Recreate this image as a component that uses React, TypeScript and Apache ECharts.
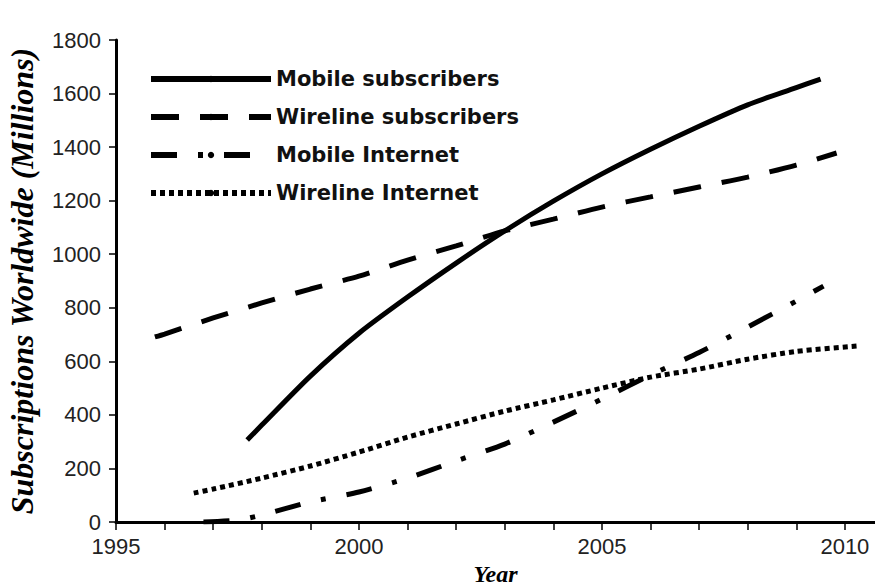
import React, { useEffect, useRef } from "react";
import * as echarts from "echarts";

const seriesNames = [
  "Mobile subscribers",
  "Wireline subscribers",
  "Mobile Internet",
  "Wireline Internet",
];

const mobileSubsYears = [1997.7, 1998, 1999, 2000, 2001, 2002, 2003, 2004, 2005, 2006, 2007, 2008, 2009, 2009.5];
const mobileSubsValues = [306, 362, 545, 705, 840, 967, 1087, 1198, 1300, 1392, 1478, 1558, 1622, 1654];

const wirelineSubsYears = [1995.8, 1996, 1997, 1998, 1999, 2000, 2001, 2002, 2003, 2004, 2005, 2006, 2007, 2008, 2009, 2009.83];
const wirelineSubsValues = [691, 702, 762, 818, 870, 918, 978, 1031, 1087, 1131, 1176, 1214, 1251, 1288, 1333, 1378];

const mobileNetYears = [1996.8, 1997.5, 1998, 1999, 2000, 2001, 2002, 2003, 2004, 2005, 2006, 2007, 2008, 2009, 2009.56];
const mobileNetValues = [0, 7, 26, 75, 112, 164, 228, 291, 373, 459, 549, 633, 728, 825, 881];

const wirelineNetYears = [1996.6, 1997, 1998, 1999, 2000, 2001, 2002, 2003, 2004, 2005, 2006, 2007, 2008, 2009, 2010.24];
const wirelineNetValues = [108, 123, 164, 209, 261, 317, 366, 414, 456, 500, 541, 571, 608, 637, 657];

const xTickLabels = [1995, 2000, 2005, 2010];

const zip = (xs: number[], ys: number[]) => xs.map((x, i) => [x, ys[i]]);

const sans = "'Liberation Sans', Arial, sans-serif";
const serif = "'Liberation Serif', 'Times New Roman', serif";

export default function App() {
  const ref = useRef<HTMLDivElement>(null);
  useEffect(() => {
    if (!ref.current) return;
    const chart = echarts.init(ref.current, undefined, { renderer: "svg" });
    const dashTypes: any[] = ["solid", [28, 21], [26, 21, 5, 21], [5, 4]];
    const datasets = [
      zip(mobileSubsYears, mobileSubsValues),
      zip(wirelineSubsYears, wirelineSubsValues),
      zip(mobileNetYears, mobileNetValues),
      zip(wirelineNetYears, wirelineNetValues),
    ];
    chart.setOption({
      animation: false,
      backgroundColor: "#ffffff",
      grid: {
        left: 116,
        right: 0,
        top: 40,
        bottom: 64,
        containLabel: false,
        outerBoundsMode: "none",
      },
      legend: {
        data: seriesNames,
        orient: "vertical",
        left: 143,
        top: 62,
        itemWidth: 120,
        itemHeight: 8,
        itemGap: 14,
        lineStyle: { width: 6 },
        textStyle: {
          fontFamily: "'DejaVu Sans', sans-serif",
          fontWeight: "bold",
          fontSize: 21,
          color: "#111",
          lineHeight: 24,
          padding: [0, 0, 0, 0],
        },
      },
      xAxis: {
        type: "value",
        min: 1995,
        max: 2010.62,
        interval: 1,
        splitLine: { show: false },
        axisLine: { show: true, onZero: false, lineStyle: { color: "#000", width: 3 } },
        axisTick: { show: true, length: 8, lineStyle: { color: "#000", width: 1.5 } },
        axisLabel: {
          fontFamily: sans,
          fontSize: 22,
          color: "#222",
          margin: 13,
          showMaxLabel: false,
          formatter: (v: number) =>
            xTickLabels.includes(Math.round(v)) && Math.abs(v - Math.round(v)) < 1e-6 ? String(Math.round(v)) : "",
        },
        name: "Year",
        nameLocation: "middle",
        nameGap: 33,
        nameTextStyle: {
          fontFamily: serif,
          fontStyle: "italic",
          fontWeight: "bold",
          fontSize: 24,
          lineHeight: 24,
          color: "#000",
        },
      },
      yAxis: {
        type: "value",
        min: 0,
        max: 1800,
        interval: 200,
        splitLine: { show: false },
        axisLine: { show: true, lineStyle: { color: "#000", width: 3 } },
        axisTick: { show: true, length: 7, lineStyle: { color: "#000", width: 1.5 } },
        axisLabel: {
          fontFamily: sans,
          fontSize: 22,
          color: "#222",
          margin: 15,
          formatter: (v: number) => String(v),
        },
        name: "Subscriptions Worldwide (Millions)",
        nameLocation: "middle",
        nameRotate: 90,
        nameGap: 78,
        nameTextStyle: {
          fontFamily: serif,
          fontStyle: "italic",
          fontWeight: "bold",
          fontSize: 32,
          color: "#000",
        },
      },
      series: seriesNames.map((name, i) => ({
        name,
        type: "line",
        data: datasets[i],
        symbol: "none",
        smooth: 0.25,
        lineStyle: { color: "#000", width: 5, type: dashTypes[i] },
        itemStyle: { color: "#000" },
      })),
    });
    return () => chart.dispose();
  }, []);
  return (
    <div
      ref={ref}
      style={{ position: "absolute", left: 0, top: 0, width: 875, height: 586, background: "#fff" }}
    />
  );
}
